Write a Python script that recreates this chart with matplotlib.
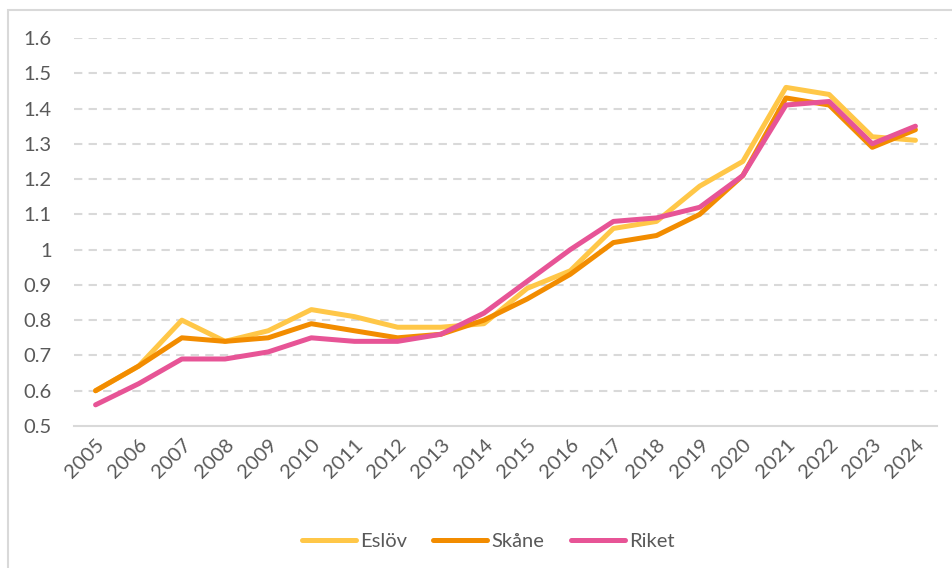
import matplotlib.pyplot as plt
from matplotlib.patches import Rectangle

years = [str(y) for y in range(2005, 2025)]
eslov = [0.60, 0.67, 0.80, 0.74, 0.77, 0.83, 0.81, 0.78, 0.78, 0.79,
         0.89, 0.94, 1.06, 1.08, 1.18, 1.25, 1.46, 1.44, 1.32, 1.31]
skane = [0.60, 0.67, 0.75, 0.74, 0.75, 0.79, 0.77, 0.75, 0.76, 0.80,
         0.86, 0.93, 1.02, 1.04, 1.10, 1.21, 1.43, 1.41, 1.29, 1.34]
riket = [0.56, 0.62, 0.69, 0.69, 0.71, 0.75, 0.74, 0.74, 0.76, 0.82,
         0.91, 1.00, 1.08, 1.09, 1.12, 1.21, 1.41, 1.42, 1.30, 1.35]
yticks = [0.5, 0.6, 0.7, 0.8, 0.9, 1.0, 1.1, 1.2, 1.3, 1.4, 1.5, 1.6]
ytick_labels = ['0.5', '0.6', '0.7', '0.8', '0.9', '1', '1.1', '1.2', '1.3', '1.4', '1.5', '1.6']

plt.rcParams['font.family'] = ['Lato', 'DejaVu Sans']
text_col = '#595959'
grid_col = '#D9D9D9'

fig = plt.figure(figsize=(9.52, 5.68), dpi=100)
# chart frame, open on the right and bottom
fig.patches.append(Rectangle((8 / 952, -0.1), 1.2, 1 - 10 / 568 + 0.1,
                             transform=fig.transFigure, fill=False,
                             edgecolor=grid_col, linewidth=1.5))

ax = fig.add_axes([74 / 952, 1 - 426 / 568, (937 - 74) / 952, (426 - 38) / 568])
x = range(len(years))
ax.plot(x, eslov, color='#FFC748', lw=3.6, label='Eslöv', solid_capstyle='round', zorder=3)
ax.plot(x, skane, color='#F28C00', lw=3.6, label='Skåne', solid_capstyle='round', zorder=4)
ax.plot(x, riket, color='#E75496', lw=3.6, label='Riket', solid_capstyle='round', zorder=5)

ax.set_xlim(-0.5, len(years) - 0.5)
ax.set_ylim(0.5, 1.6)
ax.set_yticks(yticks)
ax.set_yticklabels(ytick_labels)
ax.set_xticks(list(x))
ax.set_xticklabels(years, rotation=45, ha='right', rotation_mode='anchor')
ax.tick_params(axis='both', length=0, labelsize=14.5, colors=text_col)
ax.tick_params(axis='y', pad=16)
ax.tick_params(axis='x', pad=7)

for v in yticks[1:]:
    ax.axhline(v, color=grid_col, lw=1.5, ls=(0, (4, 3)), zorder=1)
for s in ['top', 'right', 'left']:
    ax.spines[s].set_visible(False)
ax.spines['bottom'].set_color(grid_col)
ax.spines['bottom'].set_linewidth(1.5)

leg = fig.legend(loc='center', bbox_to_anchor=(488 / 952, 1 - 541 / 568), ncol=3,
                 frameon=False, fontsize=14.5, handlelength=2.7, handletextpad=0.2,
                 columnspacing=1.3)
for t in leg.get_texts():
    t.set_color(text_col)

fig.savefig('out.png', dpi=100)
